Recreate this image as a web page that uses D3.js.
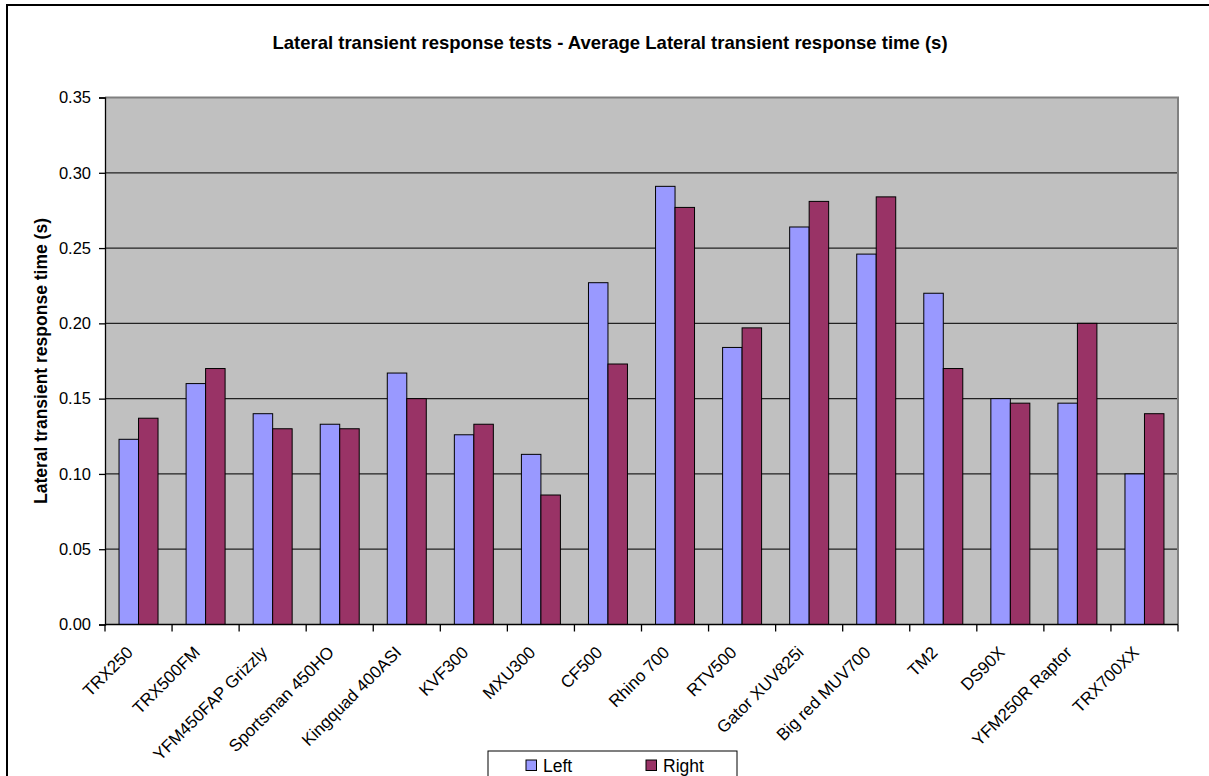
<!DOCTYPE html>
<html>
<head>
<meta charset="utf-8">
<script src="https://cdn.jsdelivr.net/npm/d3@7"></script>
<style>
  html, body { margin: 0; padding: 0; background: #fff; }
  svg { display: block; font-family: Arial, "Liberation Sans", sans-serif; }
</style>
</head>
<body>
<svg id="chart" width="1209" height="776"></svg>
<script>
const categories = ["TRX250", "TRX500FM", "YFM450FAP Grizzly", "Sportsman 450HO", "Kingquad 400ASI",
  "KVF300", "MXU300", "CF500", "Rhino 700", "RTV500", "Gator XUV825i", "Big red MUV700",
  "TM2", "DS90X", "YFM250R Raptor", "TRX700XX"];
const seriesNames = ["Left", "Right"];
const leftValues  = [0.123, 0.160, 0.140, 0.133, 0.167, 0.126, 0.113, 0.227, 0.291, 0.184, 0.264, 0.246, 0.220, 0.150, 0.147, 0.100];
const rightValues = [0.137, 0.170, 0.130, 0.130, 0.150, 0.133, 0.086, 0.173, 0.277, 0.197, 0.281, 0.284, 0.170, 0.147, 0.200, 0.140];
const yTicks = [0, 0.05, 0.10, 0.15, 0.20, 0.25, 0.30, 0.35];
const colors = { Left: "#9999FF", Right: "#993366" };
const titleText = "Lateral transient response tests - Average Lateral transient response time (s)";
const yLabel = "Lateral transient response time (s)";

const svg = d3.select("#chart");
const plot = { left: 105, right: 1178, top: 97.5, bottom: 624.5 };

// outer chart frame (extends past the right/bottom edge)
svg.append("rect").attr("x", 7).attr("y", 5).attr("width", 1230).attr("height", 800)
  .attr("fill", "#fff").attr("stroke", "#000").attr("stroke-width", 2);

const x0 = d3.scaleBand().domain(categories).range([plot.left, plot.right]).padding(0);
const x1 = d3.scaleBand().domain(seriesNames).range([0, x0.bandwidth()]).paddingInner(0).paddingOuter(0.72);
const y = d3.scaleLinear().domain([0, 0.35]).range([plot.bottom, plot.top]);

// plot background
svg.append("rect").attr("x", plot.left).attr("y", plot.top)
  .attr("width", plot.right - plot.left).attr("height", plot.bottom - plot.top)
  .attr("fill", "#C0C0C0");

// gridlines
svg.append("g").selectAll("line").data(yTicks.filter(d => d > 0 && d < 0.35)).join("line")
  .attr("x1", plot.left).attr("x2", plot.right)
  .attr("y1", d => y(d)).attr("y2", d => y(d))
  .attr("stroke", "#222").attr("stroke-width", 1.3);

// plot border top/right gray
svg.append("path")
  .attr("d", `M${plot.left},${plot.top}H${plot.right}V${plot.bottom}`)
  .attr("fill", "none").attr("stroke", "#808080").attr("stroke-width", 2);

// bars
const rows = categories.map((c, i) => ({ cat: c, values: [
  { key: "Left", value: leftValues[i] }, { key: "Right", value: rightValues[i] }] }));
const groups = svg.append("g").selectAll("g").data(rows).join("g")
  .attr("transform", d => `translate(${x0(d.cat)},0)`);
groups.selectAll("rect").data(d => d.values).join("rect")
  .attr("x", d => x1(d.key)).attr("width", x1.bandwidth())
  .attr("y", d => y(d.value)).attr("height", d => y(0) - y(d.value))
  .attr("fill", d => colors[d.key]).attr("stroke", "#000").attr("stroke-width", 1);

// y axis
const yAxis = d3.axisLeft(y).tickValues(yTicks).tickFormat(d3.format(".2f")).tickSize(6).tickPadding(8);
const gy = svg.append("g").attr("transform", `translate(${plot.left},0)`).call(yAxis);
gy.select(".domain").attr("stroke", "#000").attr("stroke-width", 1.3);
gy.selectAll(".tick line").attr("stroke", "#000").attr("stroke-width", 1.3);
gy.selectAll(".tick text").attr("font-size", 16.5).attr("fill", "#000")
  .attr("font-family", "Arial, 'Liberation Sans', sans-serif");

// x axis (ticks at category boundaries)
const gx = svg.append("g").attr("transform", `translate(0,${plot.bottom})`);
gx.append("line").attr("x1", plot.left).attr("x2", plot.right).attr("y1", 0).attr("y2", 0)
  .attr("stroke", "#000").attr("stroke-width", 1.3);
const boundaries = categories.map(c => x0(c)).concat([plot.right]);
gx.selectAll("line.tk").data(boundaries).join("line").attr("class", "tk")
  .attr("x1", d => d).attr("x2", d => d).attr("y1", 0).attr("y2", 7)
  .attr("stroke", "#000").attr("stroke-width", 1.3);
gx.selectAll("text").data(categories).join("text")
  .attr("transform", d => `translate(${x0(d) + x0.bandwidth() / 2 - 4.5},${29}) rotate(-45)`)
  .attr("text-anchor", "end").attr("font-size", 17).attr("fill", "#000")
  .text(d => d);

// title
svg.append("text").attr("x", 610).attr("y", 49).attr("text-anchor", "middle")
  .attr("font-size", 18.5).attr("font-weight", "bold").text(titleText);

// y label
svg.append("text").attr("transform", `translate(47,${(plot.top + plot.bottom) / 2}) rotate(-90)`)
  .attr("text-anchor", "middle").attr("font-size", 17.5).attr("font-weight", "bold").text(yLabel);

// legend
const lg = svg.append("g");
lg.append("rect").attr("x", 488).attr("y", 751).attr("width", 249).attr("height", 40)
  .attr("fill", "#fff").attr("stroke", "#000").attr("stroke-width", 1);
const legendItems = [{ key: "Left", sx: 526, tx: 543 }, { key: "Right", sx: 646, tx: 663 }];
legendItems.forEach(it => {
  lg.append("rect").attr("x", it.sx).attr("y", 760).attr("width", 10.5).attr("height", 10.5)
    .attr("fill", colors[it.key]).attr("stroke", "#000").attr("stroke-width", 1);
  lg.append("text").attr("x", it.tx).attr("y", 772).attr("font-size", 17.5).text(it.key);
});
</script>
</body>
</html>
